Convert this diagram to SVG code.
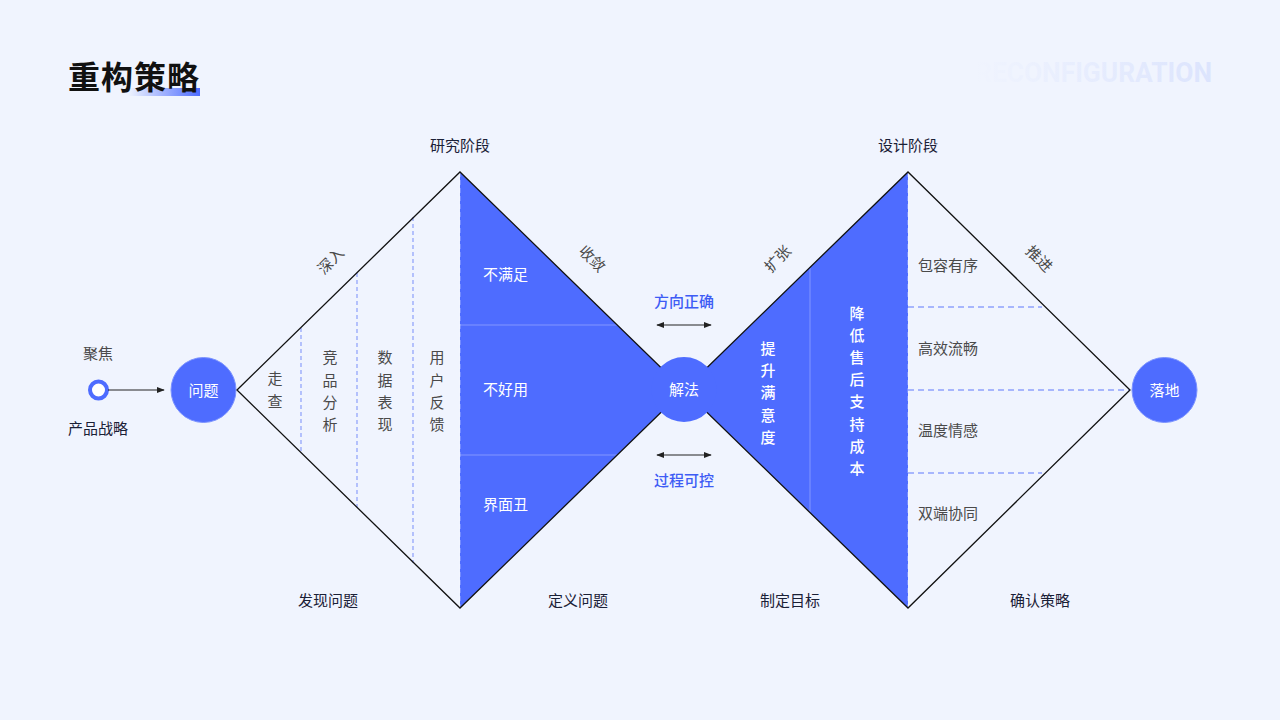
<svg xmlns="http://www.w3.org/2000/svg" width="1280" height="720" viewBox="0 0 1280 720">
  <defs>
    <linearGradient id="ulGrad" x1="0" y1="0" x2="1" y2="0">
      <stop offset="0" stop-color="#4E6CFF" stop-opacity="0"/>
      <stop offset="1" stop-color="#4E6CFF" stop-opacity="1"/>
    </linearGradient>
    <linearGradient id="wmGrad" x1="0" y1="0" x2="1" y2="0">
      <stop offset="0" stop-color="#dde5fd" stop-opacity="0"/>
      <stop offset="1" stop-color="#dce4fd" stop-opacity="1"/>
    </linearGradient>
    <marker id="ah" viewBox="0 0 10 10" refX="9" refY="5" markerWidth="8" markerHeight="8" orient="auto-start-reverse" markerUnits="userSpaceOnUse">
      <path d="M0,1 L10,5 L0,9 Z" fill="#222"/>
    </marker>
    <style>
      text { font-family: "Noto Sans CJK SC", "Noto Sans", sans-serif; }
      .lbl { font-size: 15px; fill: #4a4a4a; dominant-baseline: central; text-anchor: middle; }
      .dark { font-size: 15px; fill: #1a2036; font-weight: 400; dominant-baseline: central; text-anchor: middle; }
      .blue { font-size: 15px; fill: #3E5CF5; font-weight: 500; dominant-baseline: central; text-anchor: middle; }
      .wt { font-size: 15px; fill: #ffffff; dominant-baseline: central; }
      .wtc { font-size: 15px; fill: #ffffff; dominant-baseline: central; text-anchor: middle; }
      .wtb { font-size: 15px; fill: #ffffff; font-weight: 500; dominant-baseline: central; text-anchor: middle; }
      .side { font-size: 15px; fill: #4a4a4a; dominant-baseline: central; }
      .outline { fill: none; stroke: #111; stroke-width: 1.3; stroke-linejoin: miter; }
      .bluefill { fill: #4E6CFF; }
      .node { fill: #4E6CFF; stroke: #7c93ff; stroke-width: 1; }
      .dashv { stroke: #9aabfb; stroke-width: 1.4; stroke-dasharray: 4 3; fill: none; }
      .dashh { stroke: #5f79fb; stroke-width: 1.2; stroke-dasharray: 6 4; fill: none; }
      .inner { stroke: #ffffff; stroke-opacity: 0.3; stroke-width: 1; fill: none; }
      .innerd { stroke: #ffffff; stroke-opacity: 0.45; stroke-width: 1; stroke-dasharray: 5 3; fill: none; }
      .conn { stroke: #222; stroke-width: 1.1; fill: none; }
    </style>
  </defs>

  <rect x="0" y="0" width="1280" height="720" fill="#F0F4FE"/>

  <g id="title">
    <rect x="128" y="88" width="72" height="8" fill="url(#ulGrad)"/>
    <text x="68" y="89" font-size="32" font-weight="700" fill="#111" letter-spacing="1">重构策略</text>
  </g>
  <g id="watermark">
    <text x="975" y="82" font-size="27" font-weight="700" fill="url(#wmGrad)" textLength="237" lengthAdjust="spacingAndGlyphs" style="font-family: Roboto, 'Liberation Sans', sans-serif;">RECONFIGURATION</text>
  </g>

  <g id="start">
    <text class="lbl" x="98" y="352">聚焦</text>
    <circle cx="98.5" cy="390" r="8.5" fill="#ffffff" stroke="#4E6CFF" stroke-width="4"/>
    <text class="dark" x="98" y="427">产品战略</text>
  </g>

  <g id="node-wenti">
    <circle class="node" cx="203.5" cy="390" r="32.5"/>
    <text class="wtc" x="203.5" y="389">问题</text>
  </g>

  <g id="left-diamond">
    <polygon class="bluefill" points="460,172 684,390 460,608"/>
    <line class="inner" x1="460" y1="325" x2="617" y2="325"/>
    <line class="inner" x1="460" y1="455" x2="617" y2="455"/>
    <line class="innerd" x1="460" y1="172" x2="460" y2="608"/>
    <line class="dashv" x1="301" y1="328" x2="301" y2="452"/>
    <line class="dashv" x1="357" y1="273" x2="357" y2="507"/>
    <line class="dashv" x1="413" y1="217" x2="413" y2="563"/>
    <polygon class="outline" points="237,390 460,172 684,390 460,608"/>
    <text class="dark" x="460" y="144">研究阶段</text>
    <text class="lbl" transform="translate(330,260) rotate(-45)">深入</text>
    <text class="lbl" transform="translate(593,258) rotate(45)">收敛</text>
    <text class="lbl"><tspan x="275" y="377">走</tspan><tspan x="275" y="400">查</tspan></text>
    <text class="lbl"><tspan x="330" y="356">竞</tspan><tspan x="330" y="379">品</tspan><tspan x="330" y="401">分</tspan><tspan x="330" y="423">析</tspan></text>
    <text class="lbl"><tspan x="385" y="356">数</tspan><tspan x="385" y="379">据</tspan><tspan x="385" y="401">表</tspan><tspan x="385" y="423">现</tspan></text>
    <text class="lbl"><tspan x="437" y="356">用</tspan><tspan x="437" y="379">户</tspan><tspan x="437" y="401">反</tspan><tspan x="437" y="423">馈</tspan></text>
    <text class="wt" x="483" y="273">不满足</text>
    <text class="wt" x="483" y="388">不好用</text>
    <text class="wt" x="483" y="503">界面丑</text>
    <text class="dark" x="328" y="599">发现问题</text>
    <text class="dark" x="578" y="599">定义问题</text>
  </g>

  <g id="right-diamond">
    <polygon class="bluefill" points="684,390 908,172 908,608"/>
    <line class="inner" x1="810" y1="268" x2="810" y2="512"/>
    <line class="innerd" x1="908" y1="172" x2="908" y2="608"/>
    <line class="dashh" x1="908" y1="307" x2="1042" y2="307"/>
    <line class="dashh" x1="908" y1="390" x2="1130" y2="390"/>
    <line class="dashh" x1="908" y1="473" x2="1042" y2="473"/>
    <polygon class="outline" points="684,390 908,172 1130,390 908,608"/>
    <text class="dark" x="908" y="144">设计阶段</text>
    <text class="lbl" transform="translate(777,258) rotate(-45)">扩张</text>
    <text class="lbl" transform="translate(1040,258) rotate(45)">推进</text>
    <text class="wtb"><tspan x="768" y="347">提</tspan><tspan x="768" y="369">升</tspan><tspan x="768" y="391">满</tspan><tspan x="768" y="414">意</tspan><tspan x="768" y="436">度</tspan></text>
    <text class="wtb"><tspan x="857" y="312">降</tspan><tspan x="857" y="334">低</tspan><tspan x="857" y="356">售</tspan><tspan x="857" y="378">后</tspan><tspan x="857" y="400">支</tspan><tspan x="857" y="423">持</tspan><tspan x="857" y="445">成</tspan><tspan x="857" y="467">本</tspan></text>
    <text class="side" x="918" y="264">包容有序</text>
    <text class="side" x="918" y="347">高效流畅</text>
    <text class="side" x="918" y="429">温度情感</text>
    <text class="side" x="918" y="512">双端协同</text>
    <text class="dark" x="790" y="599">制定目标</text>
    <text class="dark" x="1040" y="599">确认策略</text>
  </g>

  <g id="node-jiefa">
    <circle cx="684" cy="389.5" r="32.5" fill="#4E6CFF"/>
    <text class="wtc" x="684" y="388">解法</text>
  </g>

  <g id="node-luodi">
    <circle class="node" cx="1164.5" cy="390" r="32.5"/>
    <text class="wtc" x="1164.5" y="389">落地</text>
  </g>

  <g id="center-notes">
    <text class="blue" x="684" y="300">方向正确</text>
    <text class="blue" x="684" y="479">过程可控</text>
  </g>

  <g id="connectors">
    <line class="conn" x1="108" y1="390" x2="164" y2="390" marker-end="url(#ah)"/>
    <line class="conn" x1="657" y1="325" x2="711" y2="325" marker-start="url(#ah)" marker-end="url(#ah)"/>
    <line class="conn" x1="657" y1="455" x2="711" y2="455" marker-start="url(#ah)" marker-end="url(#ah)"/>
  </g>
</svg>
